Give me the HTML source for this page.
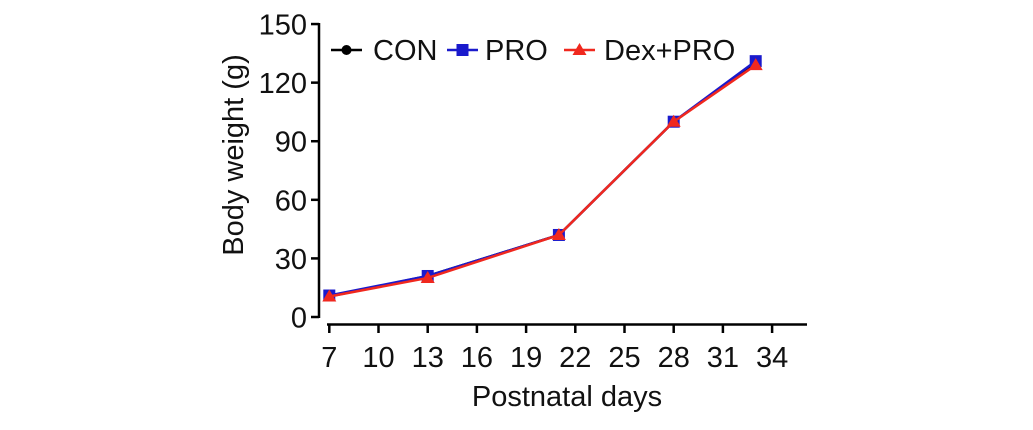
<!DOCTYPE html>
<html><head><meta charset="utf-8"><style>
body{margin:0;background:#fff;}
text{font-family:"Liberation Sans",Arial,sans-serif;fill:#111;}
</style></head><body>
<svg width="1033" height="425" viewBox="0 0 1033 425">
<g id="axes"></g><g id="series"></g><g id="legend"></g>
</svg>
<script>
const days=[7,13,21,28,33];
const conVals=[10.5,21,42,100,130];
const proVals=[11,21,42,100,131];
const dexVals=[10.5,20,42,100,129];
const yTicks=[0,30,60,90,120,150];
const xTicks=[7,10,13,16,19,22,25,28,31,34];
const seriesNames=["CON","PRO","Dex+PRO"];

const NS="http://www.w3.org/2000/svg";
const x=d=>329.3+(d-7)*16.4;
const y=v=>317-v*1.953;
function mk(tag,attrs,parent){const e=document.createElementNS(NS,tag);for(const k in attrs)e.setAttribute(k,attrs[k]);parent.appendChild(e);return e;}
const axes=document.getElementById('axes'),ser=document.getElementById('series'),leg=document.getElementById('legend');

let ya=mk('line',{x1:319,y1:23,x2:319,y2:318,stroke:'#000','stroke-width':2.5},axes);

yTicks.forEach(v=>{
 let t=mk('line',{x1:311,y1:y(v),x2:319,y2:y(v),stroke:'#000','stroke-width':2.5},axes);
 
 let l=mk('text',{x:307,y:y(v)+10.5,'text-anchor':'end','font-size':29},axes);l.textContent=v;
 
});
let xa=mk('line',{x1:327,y1:324.5,x2:807,y2:324.5,stroke:'#000','stroke-width':2.5},axes);

xTicks.forEach(v=>{
 let t=mk('line',{x1:x(v),y1:324.5,x2:x(v),y2:333,stroke:'#000','stroke-width':2.5},axes);
 
 let l=mk('text',{x:x(v),y:367,'text-anchor':'middle','font-size':29},axes);l.textContent=v;
 
});
let xt=mk('text',{x:567,y:406,'text-anchor':'middle','font-size':29},axes);xt.textContent='Postnatal days';

let yt=mk('text',{x:0,y:0,'text-anchor':'middle','font-size':29,transform:'translate(243,155) rotate(-90)'},axes);yt.textContent='Body weight (g)';


function marker(kind,cx,cy,color,parent){
 if(kind==='circle')return mk('circle',{cx:cx,cy:cy,r:5,fill:color},parent);
 if(kind==='square')return mk('rect',{x:cx-6,y:cy-6,width:12,height:12,fill:color},parent);
 return mk('polygon',{points:`${cx},${cy-7} ${cx-7},${cy+5} ${cx+7},${cy+5}`,fill:color},parent);
}
const specs=[[conVals,'#000','circle'],[proVals,'#1a1acc','square'],[dexVals,'#f0281e','triangle']];
specs.forEach((s,i)=>{
 const g=mk('g',{},ser);
 
 
 const pts=days.map((d,j)=>x(d)+','+y(s[0][j])).join(' ');
 let pl=mk('polyline',{points:pts,fill:'none',stroke:s[1],'stroke-width':2.5},g);
 
 days.forEach((d,j)=>{let m=marker(s[2],x(d),y(s[0][j]),s[1],g);
  });
});
const legX=[331,447,564];
const legT=[373,485,604];
specs.forEach((s,i)=>{
 const g=mk('g',{},leg);
 
 const lx=legX[i],ly=50;
 mk('line',{x1:lx,y1:ly,x2:lx+31,y2:ly,stroke:s[1],'stroke-width':2.5},g);
 marker(s[2],lx+15.5,ly,s[1],g);
 let t=mk('text',{x:legT[i],y:60,'font-size':29},g);t.textContent=seriesNames[i];
});
</script>
</body></html>
